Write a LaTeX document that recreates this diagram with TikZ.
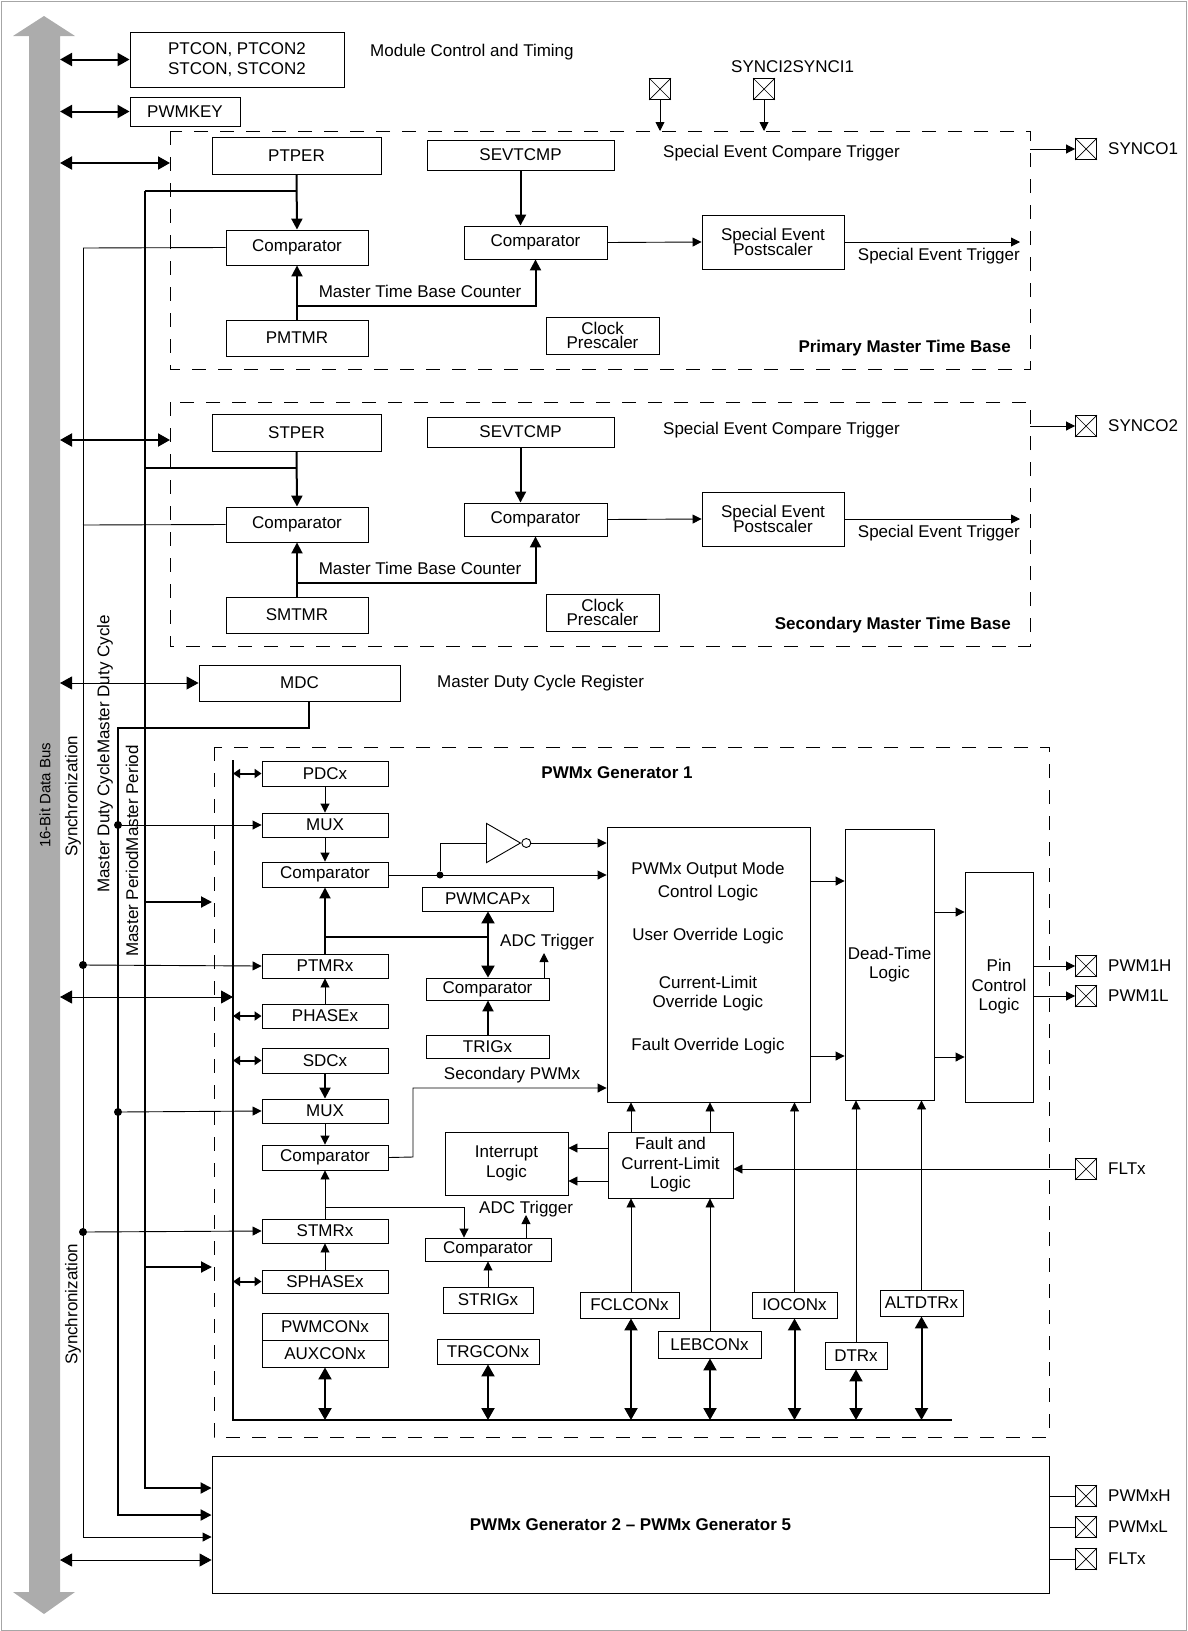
\documentclass[tikz,border=0pt]{standalone}
\usepackage{fontspec}
\setmainfont{Liberation Sans}
\usetikzlibrary{arrows.meta,shapes.geometric}
\newcommand\bx[6]{\node[box,minimum width={((#4)-(#2))*1pt},minimum height={((#5)-(#3))*1pt}] (#1) at ({((#2)+(#4))/2},{((#3)+(#5))/2}) {#6};}
\newcommand\pinx[2]{\node[draw,line width=0.9pt,minimum size=21pt,inner sep=0pt] (#1) at (#2) {};
 \draw[line width=0.7pt] (#1.north west)--(#1.south east) (#1.north east)--(#1.south west);}
\begin{document}
\begin{tikzpicture}[x=1pt,y=-1pt,
 every node/.style={font=\fontsize{17}{19.5}\selectfont},
 box/.style={draw,line width=0.9pt,inner sep=0pt,align=center},
 ln/.style={line width=0.9pt},
 tk/.style={line width=2pt},
 a/.style={ln,-{Triangle[length=9pt,width=9pt]}},
 ta/.style={tk,-{Triangle[length=11pt,width=11pt]}},
 da/.style={tk,{Triangle[length=12pt,width=13pt]}-{Triangle[length=12pt,width=13pt]}},
 dt/.style={ln,{Triangle[length=12pt,width=13pt]}-{Triangle[length=12pt,width=13pt]}},
 ds/.style={tk,{Triangle[length=7pt,width=9pt]}-{Triangle[length=7pt,width=9pt]}},
 dsh/.style={line width=0.9pt,dash pattern=on 14pt off 12pt},
 dot/.style={circle,fill,inner sep=0pt,minimum size=8pt},
 lbl/.style={inner sep=0pt}]
\useasboundingbox (0,0) rectangle (1187,1631);
\draw[gray!70,line width=1pt] (1,1) rectangle (1186,1630);
% data bus
\fill[gray!65] (44,16)--(75,36)--(60,36)--(60,1592)--(75,1592)--(44,1614)--(13,1592)--(29,1592)--(29,36)--(13,36)--cycle;
\node[rotate=90,anchor=west,lbl,font=\fontsize{15}{17}\selectfont] (bus) at (45,848) {16-Bit Data Bus};
\coordinate (B) at (60,0);
% top registers
\bx{ptcon}{130}{32}{344}{87}{PTCON, PTCON2\\STCON, STCON2}
\bx{pwmkey}{130}{97}{240}{126}{PWMKEY}
\draw[da] (B|-ptcon.west) -- (ptcon.west);
\draw[da] (B|-pwmkey.west) -- (pwmkey.west);
\node[anchor=west,lbl] (mct) at (370,52) {Module Control and Timing};
% SYNCI
\pinx{si2}{660,89}\pinx{si1}{764,89}
\coordinate (si2e) at (660,131);\coordinate (si1e) at (764,131);
\draw[a] (si2.south)--(si2e); \draw[a] (si1.south)--(si1e);
\node[anchor=west,lbl] (silbl) at (731,67) {SYNCI2SYNCI1};
% time bases
\foreach \o/\s/\per/\tmr/\ttl/\syn/\top in {0/p/PTPER/PMTMR/Primary/SYNCO1/131,277/s/STPER/SMTMR/Secondary/SYNCO2/402}{
 \draw[dsh] (170,\top) rectangle (1030,369+\o);
 \coordinate (bx\s) at (170,163+\o);
 \draw[da] (B|-bx\s) -- (bx\s);
 \bx{per\s}{212}{137+\o}{381}{174+\o}{\per}
 \bx{cmp\s}{226}{230+\o}{368}{265+\o}{Comparator}
 \bx{tmr\s}{226}{320+\o}{368}{356+\o}{\tmr}
 \coordinate (tap\s) at (297,191+\o);
 \draw[ta] (per\s.south) -- (cmp\s.north);
 \draw[tk] (tap\s) -- (145,191+\o);
 \draw[ln] (cmp\s.west) -- (83,248+\o);
 \bx{sev\s}{427}{140+\o}{614}{170+\o}{SEVTCMP}
 \bx{cmpb\s}{464}{226+\o}{607}{259+\o}{Comparator}
 \coordinate (j\s) at (297,306+\o);
 \draw[ta] (tmr\s.north) -- (cmp\s.south);
 \draw[ta] (j\s) -- (cmpb\s.south|-j\s) -- (cmpb\s.south);
 \draw[ta] (sev\s.south) -- (sev\s.south|-cmpb\s.north);
 \node[lbl] (mtb\s) at (420,291+\o) {Master Time Base Counter};
 \bx{post\s}{702}{215+\o}{844}{269+\o}{Special Event\\[-4pt]Postscaler}
 \draw[a] (cmpb\s.east) -- (post\s.west);
 \coordinate (set\s) at (1020,242+\o);
 \draw[a] (post\s.east) -- (set\s);
 \node[lbl,anchor=north east] (setl\s) at (1020,248+\o) {Special Event Trigger};
 \bx{clk\s}{546}{317+\o}{659}{354+\o}{Clock\\[-5pt]Prescaler}
 \node[lbl,anchor=west] (sect\s) at (663,153+\o) {Special Event Compare Trigger};
 \node[lbl,anchor=east,font=\fontsize{17}{19.5}\selectfont\bfseries] (ttl\s) at (1011,348+\o) {\ttl\ Master Time Base};
 \pinx{so\s}{1086,149+\o}
 \draw[a] (1030,149+\o) -- (so\s.west);
 \node[lbl,anchor=west] (sol\s) at (1108,149+\o) {\syn};
}
% MDC
\bx{mdc}{199}{665}{400}{701}{MDC}
\draw[dt] (B|-mdc.west) -- (mdc.west);
\node[lbl,anchor=west] (mdcl) at (437,683) {Master Duty Cycle Register};
% long vertical lines
\bx{gen}{212}{1456}{1049}{1593}{\bfseries PWMx Generator 2 -- PWMx Generator 5}
\draw[ta] (145,191) -- (145,1488) -- (gen.west|-0,1488);
\draw[ta] (mdc.south-|309,0) -- (309,728) -- (118,728) -- (118,1515) -- (gen.west|-0,1515);
\draw[a] (83,248) -- (83,1537) -- (gen.west|-0,1537);
\draw[dt] (B|-0,1560) -- (gen.west|-0,1560);
\node[rotate=90,anchor=west,lbl] (syn1) at (73,857) {Synchronization};
\node[rotate=90,anchor=west,lbl] (syn2) at (73,1365) {Synchronization};
\node[rotate=90,anchor=west,lbl] (mdcy) at (105,893) {Master Duty CycleMaster Duty Cycle};
\node[rotate=90,anchor=west,lbl] (mper) at (132,957) {Master PeriodMaster Period};
% Generator 1
\draw[dsh] (214,747) rectangle (1049,1437);
\node[lbl,font=\fontsize{17}{19.5}\selectfont\bfseries] (g1) at (617,773) {PWMx Generator 1};
\coordinate (ib) at (233,997);
\draw[line width=2.2pt] (233,760) -- (233,1420) -- (952,1420);
\draw[dt] (B|-ib) -- (ib);
\draw[ta] (145,902) -- (212,902);
\draw[ta] (145,1267) -- (212,1267);
\bx{pdc}{262}{761}{388}{786}{PDCx}
\bx{mux1}{262}{813}{388}{837}{MUX}
\bx{cmp1}{262}{862}{388}{887}{Comparator}
\bx{ptmr}{262}{954}{388}{978}{PTMRx}
\bx{phase}{262}{1004}{388}{1028}{PHASEx}
\bx{sdc}{262}{1048}{388}{1073}{SDCx}
\bx{mux2}{262}{1099}{388}{1123}{MUX}
\bx{cmp2}{262}{1145}{388}{1170}{Comparator}
\bx{stmr}{262}{1219}{388}{1243}{STMRx}
\bx{sphase}{262}{1270}{388}{1293}{SPHASEx}
\bx{pwmcon}{262}{1313}{388}{1340}{PWMCONx}
\bx{auxcon}{262}{1340}{388}{1367}{AUXCONx}
\foreach \n in {pdc,phase,sdc,sphase}{\draw[ds] (233,0|-\n.west) -- (\n.west);}
\node[dot] (d1) at (118,825) {};\draw[a] (d1) -- (mux1.west);
\node[dot] (d2) at (118,1112) {};\draw[a] (d2) -- (mux2.west);
\node[dot] (d3) at (83,965) {};\draw[a] (d3) -- (ptmr.west);
\node[dot] (d4) at (83,1232) {};\draw[a] (d4) -- (stmr.west);
\draw[a] (pdc) -- (mux1);\draw[a] (mux1) -- (cmp1);
\draw[a] (phase) -- (ptmr);\draw[ta] (ptmr) -- (cmp1);
\draw[ta] (sdc) -- (mux2);\draw[a] (mux2) -- (cmp2);
\draw[a] (sphase) -- (stmr);\draw[a] (stmr) -- (cmp2);
\draw[da] (auxcon.south) -- (auxcon.south|-0,1420);
% capture / triggers
\bx{cap}{422}{887}{553}{911}{PWMCAPx}
\bx{tcmp}{426}{978}{549}{1000}{Comparator}
\bx{trig}{426}{1035}{549}{1058}{TRIGx}
\draw[tk] (325,937) -- (488,937);
\draw[da] (cap.south-|488,0) -- (tcmp.north-|488,0);
\draw[ta] (trig.north-|488,0) -- (tcmp.south-|488,0);
\coordinate (adc1) at (544,953);
\draw[a] (tcmp.north-|544,0) -- (adc1);
\node[lbl,anchor=west] (adcl1) at (500,942) {ADC Trigger};
\bx{scmp}{425}{1238}{551}{1261}{Comparator}
\bx{strig}{443}{1287}{533}{1313}{STRIGx}
\bx{trgcon}{437}{1339}{539}{1364}{TRGCONx}
\draw[ln] (325,1207) -- (464,1207);
\draw[a] (464,1207) -- (scmp.north-|464,0);
\coordinate (adc2) at (526,1215);
\draw[a] (scmp.north-|526,0) -- (adc2);
\node[lbl,anchor=west] (adcl2) at (479,1209) {ADC Trigger};
\draw[a] (strig.north-|488,0) -- (scmp.south-|488,0);
\draw[da] (trgcon.south-|488,0) -- (488,1420);
% logic
\bx{logic}{607}{827}{810}{1102}{}
\node[lbl] (l1) at (708,870) {PWMx Output Mode};
\node[lbl] (l2) at (708,893) {Control Logic};
\node[lbl] (l3) at (708,936) {User Override Logic};
\node[lbl] (l4) at (708,982) {Current-Limit};
\node[lbl] (l5) at (708,1003) {Override Logic};
\node[lbl] (l6) at (708,1046) {Fault Override Logic};
\node[dot,minimum size=7pt] (d5) at (440,875) {};
\draw[a] (cmp1.east|-d5) -- (logic.west|-d5);
\node[draw,line width=0.9pt,isosceles triangle,isosceles triangle apex angle=60,minimum height=34pt,inner sep=0pt,anchor=west] (inv) at (486,843) {};
\node[draw,circle,line width=0.9pt,minimum size=9pt,inner sep=0pt,anchor=west] (bub) at (inv.east) {};
\draw[ln] (d5) -- (440,843) -- (inv.west);
\draw[a] (bub.east) -- (logic.west|-bub);
\draw[a] (cmp2.east) -- (413,1157) -- (413,1088) -- (logic.west|-0,1088);
\node[lbl] (secl) at (512,1075) {Secondary PWMx};
\bx{dead}{845}{829}{934}{1100}{Dead-Time\\Logic}
\bx{pinc}{965}{872}{1033}{1102}{Pin\\Control\\Logic}
\draw[a] (logic.east|-0,881) -- (dead.west|-0,881);
\draw[a] (logic.east|-0,1056) -- (dead.west|-0,1056);
\draw[a] (dead.east|-0,912) -- (pinc.west|-0,912);
\draw[a] (dead.east|-0,1057) -- (pinc.west|-0,1057);
\pinx{ph}{1086,966}\pinx{pl}{1086,996}
\draw[a] (pinc.east|-ph) -- (ph.west);
\draw[a] (pinc.east|-pl) -- (pl.west);
\node[lbl,anchor=west] (phl) at (1108,966) {PWM1H};
\node[lbl,anchor=west] (pll) at (1108,996) {PWM1L};
\bx{fault}{608}{1132}{733}{1198}{Fault and\\Current-Limit\\Logic}
\bx{intr}{445}{1132}{568}{1195}{Interrupt\\Logic}
\draw[a] (fault.west|-0,1148) -- (intr.east|-0,1148);
\draw[a] (fault.west|-0,1181) -- (intr.east|-0,1181);
\draw[a] (fault.north-|631,0) -- (logic.south-|631,0);
\draw[a] (fault.north-|710,0) -- (logic.south-|710,0);
\pinx{flt}{1086,1169}
\draw[a] (flt.west) -- (fault.east|-flt);
\node[lbl,anchor=west] (fltl) at (1108,1169) {FLTx};
\bx{fcl}{580}{1292}{679}{1318}{FCLCONx}
\bx{leb}{658}{1331}{761}{1358}{LEBCONx}
\bx{iocon}{752}{1292}{837}{1318}{IOCONx}
\bx{dtr}{825}{1342}{887}{1369}{DTRx}
\bx{alt}{880}{1290}{963}{1316}{ALTDTRx}
\draw[a] (fcl.north-|631,0) -- (fault.south-|631,0);
\draw[a] (leb.north-|710,0) -- (fault.south-|710,0);
\draw[a] (iocon.north) -- (logic.south-|iocon.north);
\draw[a] (dtr.north) -- (dead.south-|dtr.north);
\draw[a] (alt.north) -- (dead.south-|alt.north);
\draw[da] (fcl.south-|631,0) -- (631,1420);
\draw[da] (leb.south-|710,0) -- (710,1420);
\draw[da] (iocon.south) -- (iocon.south|-0,1420);
\draw[da] (dtr.south) -- (dtr.south|-0,1420);
\draw[da] (alt.south) -- (alt.south|-0,1420);
% bottom pins
\foreach \n/\y/\t in {gh/1496/PWMxH,gl/1527/PWMxL,gf/1559/FLTx}{
 \pinx{\n}{1086,\y}
 \draw[ln] (gen.east|-\n) -- (\n.west);
 \node[lbl,anchor=west] (\n l) at (1108,\y) {\t};}
\end{tikzpicture}
\end{document}
